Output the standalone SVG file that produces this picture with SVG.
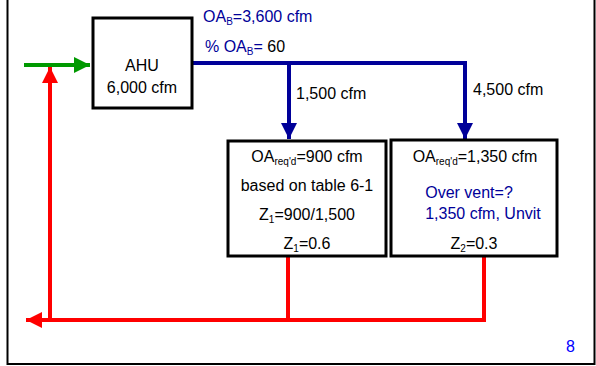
<svg xmlns="http://www.w3.org/2000/svg" width="596" height="366" viewBox="0 0 596 366">
<style>
text{font-family:"Liberation Sans",Arial,sans-serif;font-size:16px;fill:#000}
.c{text-anchor:middle}
.b{fill:#000099}
.box{fill:#fff;stroke:#000;stroke-width:3}
.blue{stroke:#000099;stroke-width:4;fill:none}
.red{stroke:#ff0000;stroke-width:4;fill:none}
.green{stroke:#009900;stroke-width:4;fill:none}
.sub{font-size:10px}
</style>
<defs>
<marker id="ab" markerUnits="userSpaceOnUse" markerWidth="16" markerHeight="16" viewBox="0 0 16 16" refX="16" refY="8" orient="auto"><path d="M0,0 L16,8 L0,16 Z" fill="#000099"/></marker>
<marker id="ar" markerUnits="userSpaceOnUse" markerWidth="16" markerHeight="16" viewBox="0 0 16 16" refX="16" refY="8" orient="auto"><path d="M0,0 L16,8 L0,16 Z" fill="#ff0000"/></marker>
<marker id="ag" markerUnits="userSpaceOnUse" markerWidth="16" markerHeight="16" viewBox="0 0 16 16" refX="16" refY="8" orient="auto"><path d="M0,0 L16,8 L0,16 Z" fill="#009900"/></marker>
</defs>
<rect x="7.5" y="-5" width="587" height="369" fill="none" stroke="#000" stroke-width="2"/>
<g id="connectors">
<path class="green" d="M24,65 L90,65" marker-end="url(#ag)"/>
<path class="blue" d="M193,63 L465,63 L465,139" marker-end="url(#ab)"/>
<path class="blue" d="M289,63 L289,139" marker-end="url(#ab)"/>
<path class="red" d="M288,256 L288,320"/>
<path class="red" d="M484,256 L484,320 L26,320" marker-end="url(#ar)"/>
<path class="red" d="M50,320 L50,67" marker-end="url(#ar)"/>
</g>
<g id="labels">
<text x="203" y="22" class="b">OA<tspan class="sub" dy="3">B</tspan><tspan dy="-3">=3,600 cfm</tspan></text>
<text x="205" y="52"><tspan class="b">% OA</tspan><tspan class="sub b" dy="3">B</tspan><tspan class="b" dy="-3">=</tspan> 60</text>
<text x="296" y="99">1,500 cfm</text>
<text x="473" y="95">4,500 cfm</text>
<text x="566" y="352" style="fill:#0000ff">8</text>
</g>
<g id="ahu">
<rect class="box" x="93" y="18" width="99" height="90"/>
<text class="c" x="142" y="71">AHU</text>
<text class="c" x="142" y="93">6,000 cfm</text>
</g>
<g id="zone1">
<rect class="box" x="228" y="141" width="158" height="115"/>
<text class="c" x="307" y="162">OA<tspan class="sub" dy="3">req'd</tspan><tspan dy="-3">=900 cfm</tspan></text>
<text class="c" x="307" y="191">based on table 6-1</text>
<text class="c" x="307" y="220">Z<tspan class="sub" dy="3">1</tspan><tspan dy="-3">=900/1,500</tspan></text>
<text class="c" x="307" y="249">Z<tspan class="sub" dy="3">1</tspan><tspan dy="-3">=0.6</tspan></text>
</g>
<g id="zone2">
<rect class="box" x="391" y="140" width="166" height="116"/>
<text class="c" x="475" y="162">OA<tspan class="sub" dy="3">req'd</tspan><tspan dy="-3">=1,350 cfm</tspan></text>
<text class="c b" x="469" y="198">Over vent=?</text>
<text class="c b" x="483" y="219">1,350 cfm, Unvit</text>
<text class="c" x="474" y="249">Z<tspan class="sub" dy="3">2</tspan><tspan dy="-3">=0.3</tspan></text>
</g>
</svg>
